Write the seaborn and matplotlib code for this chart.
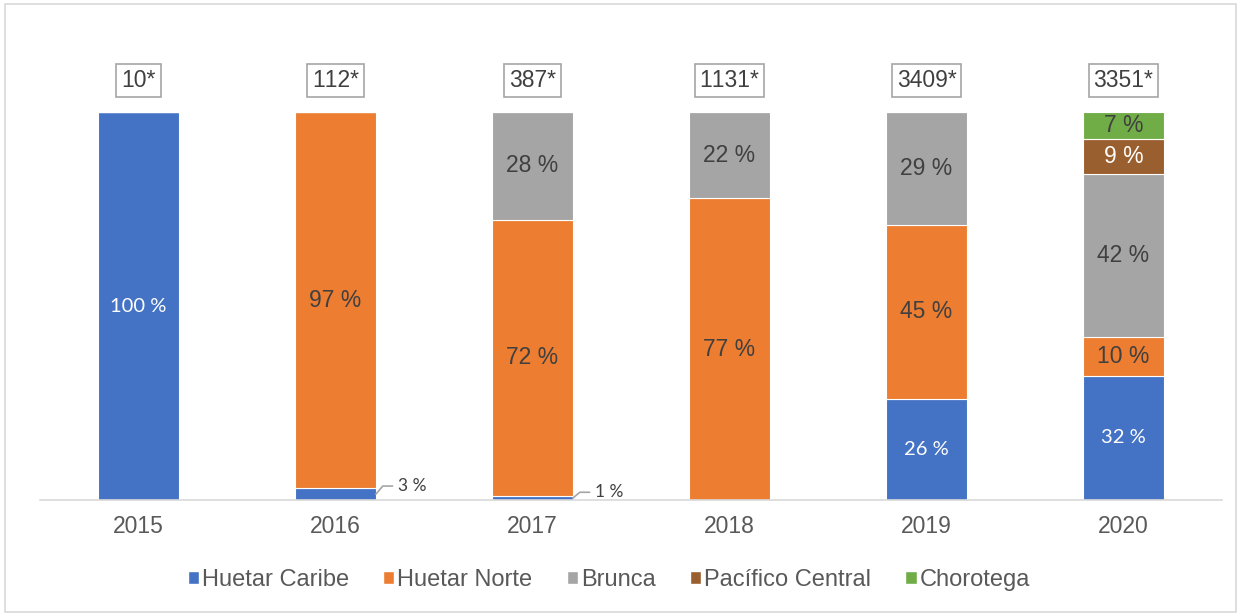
import numpy as np
import pandas as pd
import matplotlib
matplotlib.use("Agg")
import matplotlib.pyplot as plt
from matplotlib.patches import Patch, Rectangle
import seaborn as sns

# data (share of cases per region, %)
years = ["2015", "2016", "2017", "2018", "2019", "2020"]
totals = ["10*", "112*", "387*", "1131*", "3409*", "3351*"]
regions = ["Huetar Caribe", "Huetar Norte", "Brunca", "Pacífico Central", "Chorotega"]
huetar_caribe = [100, 3, 1, 0, 26, 32]
huetar_norte = [0, 97, 72, 77, 45, 10]
brunca = [0, 0, 28, 22, 29, 42]
pacifico_central = [0, 0, 0, 0, 0, 9]
chorotega = [0, 0, 0, 0, 0, 7]

colors = ["#4472C4", "#ED7D31", "#A5A5A5", "#9A5F2E", "#70AD47"]
text_colors = ["white", "#404040", "#404040", "white", "#404040"]
series = [huetar_caribe, huetar_norte, brunca, pacifico_central, chorotega]

df = pd.DataFrame(dict(zip(regions, series)), index=years)
# bars in the reference all reach the top, so scale each year to 100
scaled = df.div(df.sum(axis=1), axis=0) * 100

sns.set_theme(style="white")
plt.rcParams["font.family"] = ["Liberation Sans", "DejaVu Sans"]
plt.rcParams["text.kerning_factor"] = 6

fig = plt.figure(figsize=(12.41, 6.16), dpi=100)
ax = fig.add_axes([0.0322, 0.1883, 0.9525, 0.6298])

bottom = np.zeros(len(years))
for reg, col in zip(regions, colors):
    sns.barplot(x=years, y=scaled[reg].values, bottom=bottom, color=col, saturation=1,
                width=0.41, edgecolor="white", linewidth=0.8, ax=ax, zorder=2)
    bottom += scaled[reg].values

# segment labels
bottom = np.zeros(len(years))
for k, (reg, tcol) in enumerate(zip(regions, text_colors)):
    vals = scaled[reg].values
    raw = df[reg].values
    for i, (v, r) in enumerate(zip(vals, raw)):
        if r == 0:
            continue
        if v >= 5:
            if k == 0:
                ax.text(i, bottom[i] + v / 2, f"{r} %", ha="center", va="center",
                        color=tcol, fontsize=14.5, family=["Lato", "DejaVu Sans"])
            else:
                ax.text(i, bottom[i] + v / 2, f"{r} %", ha="center", va="center",
                        color=tcol, fontsize=16.5)
        else:
            # small slice: label outside with leader line
            x0 = i + 0.205
            y0 = bottom[i] + v / 2
            yl = 3.6 if v > 2 else y0 + 1.5
            ax.plot([x0, x0 + 0.035, x0 + 0.085], [y0, yl, yl],
                    color="#A5A5A5", lw=1.2, clip_on=False, zorder=3)
            ax.text(x0 + 0.11, yl, f"{r} %", ha="left", va="center",
                    color="#404040", fontsize=12.5, family=["Lato", "DejaVu Sans"])
    bottom += vals

# totals in boxes above the bars
for i, t in enumerate(totals):
    ax.text(i, 108.2, t, ha="center", va="center", fontsize=16.5, color="#404040",
            bbox=dict(boxstyle="square,pad=0.22", fc="white", ec="#A5A5A5", lw=1.2),
            clip_on=False)

ax.set_xlim(-0.5, len(years) - 0.5)
ax.set_ylim(0, 100)
ax.set_yticks([])
ax.set_ylabel("")
for s in ["top", "right", "left"]:
    ax.spines[s].set_visible(False)
ax.spines["bottom"].set_color("#D9D9D9")
ax.spines["bottom"].set_linewidth(1.2)
ax.tick_params(axis="x", length=0, labelsize=16.5, labelcolor="#595959", pad=11)

handles = [Patch(facecolor=c, label=r) for r, c in zip(regions, colors)]
leg = fig.legend(handles=handles, loc="center", bbox_to_anchor=(0.4905, 0.058), ncol=5,
                 frameon=False, fontsize=17, handlelength=0.48, handleheight=0.48,
                 handletextpad=0.12, columnspacing=1.45)
for t in leg.get_texts():
    t.set_color("#595959")

fig.patches.append(Rectangle((0.004, 0.006), 0.992, 0.988, transform=fig.transFigure,
                             fill=False, ec="#D9D9D9", lw=1.2))

fig.savefig("out.png", dpi=100)
